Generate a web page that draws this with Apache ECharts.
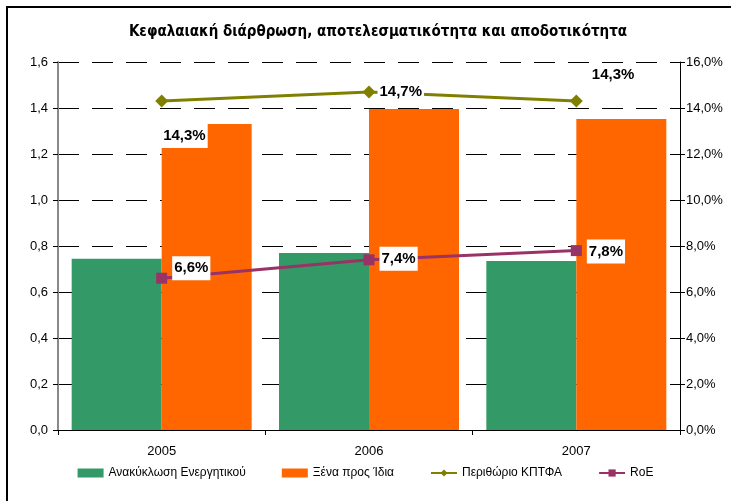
<!DOCTYPE html>
<html>
<head>
<meta charset="utf-8">
<script src="https://cdn.jsdelivr.net/npm/echarts@6/dist/echarts.min.js"></script>
<style>
    html, body { margin: 0; padding: 0; background: #fff; }
    #chartContainer { width: 731px; height: 501px; }
</style>
</head>
<body>
<div id="chartContainer"></div>
<script>
const years = ['2005', '2006', '2007'];
const assetTurnover = [0.745, 0.77, 0.735];
const debtToEquity = [1.33, 1.396, 1.352];
const ebitdaMargin = [0.143, 0.147, 0.143];
const roe = [0.066, 0.074, 0.078];
const leftTicks = ['0,0', '0,2', '0,4', '0,6', '0,8', '1,0', '1,2', '1,4', '1,6'];

const fontMain = "'Liberation Sans', Arial, sans-serif";

function pct(v) {
    return (v * 100).toFixed(1).replace('.', ',') + '%';
}

const labelBox = {
    show: true,
    color: '#000',
    fontWeight: 'bold',
    fontSize: 15,
    fontFamily: fontMain,
    backgroundColor: '#fff',
    padding: [5, 2, 4, 2],
    formatter: p => pct(p.value)
};

// label placement per point
const marginLabelPos = [
    { position: 'right', offset: [-12, 35] },
    { position: 'right', offset: [-3, 0] },
    { position: 'right', offset: [2, -26] }
];
const roeLabelPos = [
    { position: 'right', offset: [0, -10] },
    { position: 'right', offset: [0, -1] },
    { position: 'right', offset: [0, 1] }
];

const chart = echarts.init(document.getElementById('chartContainer'));
chart.setOption({
    backgroundColor: '#fff',
    animation: false,
    title: {
        text: 'Κεφαλαιακή διάρθρωση, αποτελεσματικότητα και αποδοτικότητα',
        left: 373,
        textAlign: 'center',
        top: 20,
        textStyle: {
            color: '#000',
            fontSize: 15,
            fontWeight: 'bold',
            fontFamily: "'DejaVu Sans Condensed', 'Liberation Sans Narrow', 'Liberation Sans', sans-serif"
        }
    },
    graphic: [{
        type: 'rect',
        shape: { x: 7, y: 7, width: 800, height: 600 },
        style: { fill: 'none', stroke: '#000', lineWidth: 2 },
        silent: true
    }],
    legend: {
        bottom: 17,
        left: 'center',
        itemWidth: 26,
        itemHeight: 9,
        itemGap: 36,
        textStyle: { color: '#000', fontSize: 12, fontFamily: fontMain },
        data: [
            { name: 'Ανακύκλωση Ενεργητικού', icon: 'rect' },
            { name: 'Ξένα προς Ίδια', icon: 'rect' },
            { name: 'Περιθώριο ΚΠΤΦΑ' },
            { name: 'RoE' }
        ]
    },
    grid: {
        left: 58,
        right: 51,
        top: 62,
        bottom: 71
    },
    xAxis: {
        type: 'category',
        data: years,
        axisLine: { lineStyle: { color: '#000', width: 1 } },
        axisTick: { show: true, length: 5, lineStyle: { color: '#000' } },
        axisLabel: { color: '#000', fontSize: 13, fontFamily: fontMain, margin: 15 },
        splitLine: { show: false }
    },
    yAxis: [
        {
            type: 'value',
            min: 0,
            max: 1.6,
            interval: 0.2,
            axisLine: { show: true, lineStyle: { color: '#888', width: 2 } },
            axisTick: { show: true, length: 5, lineStyle: { color: '#000' } },
            axisLabel: {
                color: '#000',
                fontSize: 13,
                fontFamily: fontMain,
                margin: 10,
                formatter: (v, i) => leftTicks[i]
            },
            splitLine: { show: true, lineStyle: { color: '#000', width: 1, type: [21, 13] } }
        },
        {
            type: 'value',
            min: 0,
            max: 0.16,
            interval: 0.02,
            position: 'right',
            axisLine: { show: true, lineStyle: { color: '#000', width: 1 } },
            axisTick: { show: true, length: 5, lineStyle: { color: '#000' } },
            axisLabel: {
                color: '#000',
                fontSize: 13,
                fontFamily: fontMain,
                margin: 6,
                formatter: v => pct(v)
            },
            splitLine: { show: false }
        }
    ],
    series: [
        {
            name: 'Ανακύκλωση Ενεργητικού',
            type: 'bar',
            data: assetTurnover,
            barWidth: 90,
            barGap: '0%',
            itemStyle: { color: '#339966' }
        },
        {
            name: 'Ξένα προς Ίδια',
            type: 'bar',
            data: debtToEquity,
            barWidth: 90,
            barGap: '0%',
            itemStyle: { color: '#FF6600' }
        },
        {
            name: 'Περιθώριο ΚΠΤΦΑ',
            type: 'line',
            yAxisIndex: 1,
            z: 5,
            data: ebitdaMargin.map((v, i) => ({
                value: v,
                label: Object.assign({}, labelBox, marginLabelPos[i])
            })),
            symbol: 'diamond',
            symbolSize: 13,
            itemStyle: { color: '#808000' },
            lineStyle: { color: '#808000', width: 3 },
            label: labelBox
        },
        {
            name: 'RoE',
            type: 'line',
            yAxisIndex: 1,
            z: 6,
            data: roe.map((v, i) => ({
                value: v,
                label: Object.assign({}, labelBox, roeLabelPos[i])
            })),
            symbol: 'rect',
            symbolSize: 11,
            itemStyle: { color: '#993366' },
            lineStyle: { color: '#993366', width: 3 },
            label: labelBox
        }
    ]
});
</script>
</body>
</html>
